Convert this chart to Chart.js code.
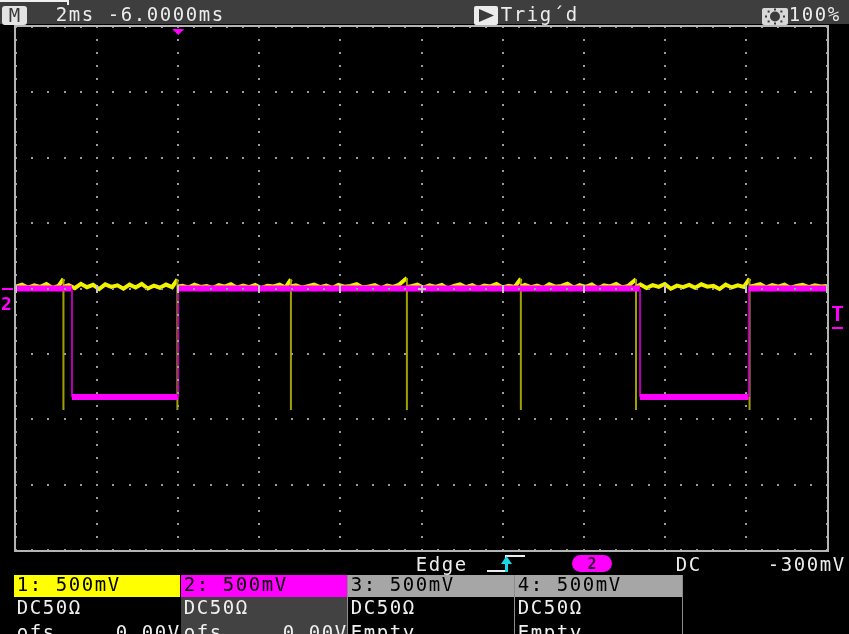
<!DOCTYPE html>
<html lang="en">
<head>
<meta charset="UTF-8" />
<title>Scope capture</title>
<script src="https://cdn.jsdelivr.net/npm/chart.js"></script>
<style>
  body { margin: 0; background: #000; }
  canvas { display: block; }
</style>
</head>
<body>
<canvas id="scope" width="849" height="634"></canvas>
<script>
  // screen is 10 div x 2 ms and 8 div x 500 mV
  const timeTicks = [0, 2, 4, 6, 8, 10, 12, 14, 16, 18, 20];
  const voltTicks = [-2, -1.5, -1, -0.5, 0, 0.5, 1, 1.5, 2];

  // channel 2 (magenta): two low pulses
  const ch2Time = [0, 1.38, 1.38, 4.00, 4.00, 15.39, 15.39, 18.07, 18.07, 20];
  const ch2Volt = [0, 0, -0.83, -0.83, 0, 0, -0.83, -0.83, 0, 0];

  // channel 1 (yellow): noisy baseline with short negative spikes
  const ch1Time = [
    0, 0.15, 0.30, 0.45, 0.60, 0.75, 0.90, 1.05,
    1.17, 1.17, 1.17,
    1.30, 1.45, 1.60, 1.75, 1.90, 2.05, 2.20, 2.35, 2.50, 2.65, 2.80, 2.95, 3.10, 3.25, 3.40, 3.55, 3.70, 3.85,
    3.98, 3.98, 3.98,
    4.10, 4.25, 4.40, 4.55, 4.70, 4.85, 5.00, 5.15, 5.30, 5.45, 5.60, 5.75, 5.90, 6.05, 6.20, 6.35, 6.50, 6.65,
    6.78, 6.78, 6.78,
    6.90, 7.05, 7.20, 7.35, 7.50, 7.65, 7.80, 7.95, 8.10, 8.25, 8.40, 8.55, 8.70, 8.85, 9.00, 9.15, 9.30, 9.45,
    9.64, 9.64, 9.64,
    9.75, 9.90, 10.05, 10.20, 10.35, 10.50, 10.65, 10.80, 10.95, 11.10, 11.25, 11.40, 11.55, 11.70, 11.85, 12.00, 12.15, 12.30,
    12.45, 12.45, 12.45,
    12.55, 12.70, 12.85, 13.00, 13.15, 13.30, 13.45, 13.60, 13.75, 13.90, 14.05, 14.20, 14.35, 14.50, 14.65, 14.80, 14.95, 15.10,
    15.29, 15.29, 15.29,
    15.40, 15.55, 15.70, 15.85, 16.00, 16.15, 16.30, 16.45, 16.60, 16.75, 16.90, 17.05, 17.20, 17.35, 17.50, 17.65, 17.80, 17.95,
    18.09, 18.09, 18.09,
    18.20, 18.35, 18.50, 18.65, 18.80, 18.95, 19.10, 19.25, 19.40, 19.55, 19.70, 19.85, 20.00
  ];
  const ch1Volt = [
    0.014, 0.030, 0.006, 0.024, 0.012, 0.034, 0.004, 0.020,
    0.073, -0.93, 0.012,
    0.026, 0.002, 0.036, 0.010, 0.028, -0.004, 0.032, 0.012, 0.024, -0.002, 0.030, 0.008, 0.035, 0.000, 0.022, 0.006, 0.030, 0.010,
    0.070, -0.93, 0.014,
    0.020, 0.008, 0.030, 0.012, 0.018, 0.004, 0.026, 0.014, 0.032, 0.006, 0.022, 0.010, 0.028, 0.002, 0.020, 0.016, 0.030, 0.008,
    0.070, -0.93, 0.015,
    0.024, 0.006, 0.018, 0.030, 0.010, 0.022, 0.004, 0.028, 0.014, 0.020, 0.034, 0.008, 0.016, 0.026, 0.002, 0.022, 0.012, 0.030,
    0.080, -0.93, 0.012,
    0.018, 0.030, 0.006, 0.024, 0.012, 0.028, 0.000, 0.020, 0.032, 0.010, 0.026, 0.004, 0.022, 0.016, 0.034, 0.008, 0.020, 0.012,
    0.075, -0.93, 0.015,
    0.028, 0.010, 0.022, 0.004, 0.032, 0.014, 0.020, 0.036, 0.006, 0.026, 0.012, 0.030, 0.000, 0.024, 0.016, 0.034, 0.008, 0.020,
    0.070, -0.93, 0.012,
    0.030, 0.004, 0.026, 0.012, 0.034, -0.002, 0.022, 0.010, 0.028, 0.006, 0.032, 0.014, 0.020, -0.004, 0.030, 0.008, 0.024, 0.012,
    0.075, -0.93, 0.014,
    0.022, 0.034, 0.008, 0.026, 0.014, 0.030, 0.004, 0.020, 0.028, 0.010, 0.024, 0.016, 0.020
  ];

  const FONT = '19px "DejaVu Sans Mono", "Liberation Mono", monospace';

  // fixed-pitch text, 13px per character cell
  function mono(ctx, s, x, y, color) {
    ctx.fillStyle = color;
    ctx.font = FONT;
    ctx.textAlign = 'center';
    ctx.textBaseline = 'alphabetic';
    [...s].forEach((ch, i) => ctx.fillText(ch, x + i * 13 + 6.5, y));
  }

  function roundRect(ctx, x, y, w, h, r, color) {
    ctx.fillStyle = color;
    ctx.beginPath();
    ctx.roundRect(x, y, w, h, r);
    ctx.fill();
  }

  const isVertical = c => c.p0.parsed.x === c.p1.parsed.x;

  const screenPlugin = {
    id: 'screen',
    beforeDraw(chart) {
      const ctx = chart.ctx;
      ctx.save();
      ctx.fillStyle = '#000';
      ctx.fillRect(0, 0, chart.width, chart.height);
      ctx.restore();
    },
    afterDatasetsDraw(chart) {
      const ctx = chart.ctx;
      const xs = chart.scales.x, ys = chart.scales.y;
      const ca = chart.chartArea;
      ctx.save();

      // dotted graticule, 5 dots per division
      ctx.fillStyle = '#9a9a9a';
      timeTicks.forEach(t => {
        const px = Math.round(xs.getPixelForValue(t));
        for (let k = 0; k <= 40; k++) {
          const py = Math.round(ys.getPixelForValue(-2 + k * 0.1));
          ctx.fillRect(px - 1, py - 1, 2, 2);
        }
      });
      voltTicks.forEach(v => {
        const py = Math.round(ys.getPixelForValue(v));
        for (let k = 0; k <= 50; k++) {
          const px = Math.round(xs.getPixelForValue(k * 0.4));
          ctx.fillRect(px - 1, py - 1, 2, 2);
        }
      });

      // major ticks on the centre line
      const cy = Math.round(ys.getPixelForValue(0));
      ctx.fillStyle = '#c4c4c4';
      timeTicks.forEach(t => {
        const px = Math.round(xs.getPixelForValue(t));
        ctx.fillRect(px - 1, cy - 4, 2, 8);
      });
      const cx = Math.round(xs.getPixelForValue(10));
      ctx.fillRect(cx - 4, cy - 1, 8, 2);

      // frame
      ctx.strokeStyle = '#b4b4b4';
      ctx.lineWidth = 2;
      ctx.strokeRect(ca.left - 1, ca.top - 1, ca.width + 2, ca.height + 2);

      // trigger position marker
      const tx = xs.getPixelForValue(4);
      ctx.fillStyle = '#ff00ff';
      ctx.beginPath();
      ctx.moveTo(tx - 6, ca.top + 2);
      ctx.lineTo(tx + 6, ca.top + 2);
      ctx.lineTo(tx, ca.top + 8);
      ctx.closePath();
      ctx.fill();

      // channel 2 ground marker on the left
      ctx.fillRect(2, cy - 1, 11, 2);
      ctx.font = 'bold 18px "DejaVu Sans Mono", monospace';
      ctx.textAlign = 'left';
      ctx.fillText('2', 1, cy + 21);

      // trigger level marker on the right
      const ly = Math.round(ys.getPixelForValue(-0.3));
      ctx.fillRect(832, ly - 22, 11, 2);
      ctx.fillRect(836, ly - 22, 3, 15);
      ctx.fillRect(832, ly - 1, 11, 2);
      ctx.restore();
    },
    afterDraw(chart) {
      const ctx = chart.ctx;
      ctx.save();

      // top status bar
      ctx.fillStyle = '#3e3e3e';
      ctx.fillRect(0, 0, chart.width, 24);
      ctx.fillStyle = '#f0f0f0';
      ctx.fillRect(0, 0, 68, 2);
      ctx.fillRect(67, 0, 2, 5);
      roundRect(ctx, 2, 6, 25, 19, 3, '#e4e4e4');
      mono(ctx, 'M', 8, 22, '#3a3a3a');
      mono(ctx, '2ms -6.0000ms', 55, 21, '#ececec');

      roundRect(ctx, 474, 6, 24, 19, 2, '#ececec');
      ctx.fillStyle = '#3a3a3a';
      ctx.beginPath();
      ctx.moveTo(479, 9);
      ctx.lineTo(494, 15.5);
      ctx.lineTo(479, 22);
      ctx.closePath();
      ctx.fill();
      mono(ctx, 'Trig\u00b4d', 500, 21, '#ececec');

      roundRect(ctx, 762, 8, 26, 17, 2, '#d8d8d8');
      ctx.fillStyle = '#3a3a3a';
      ctx.beginPath();
      ctx.arc(775, 16.5, 5, 0, Math.PI * 2);
      ctx.fill();
      for (let a = 0; a < 8; a++) {
        const ang = a * Math.PI / 4;
        ctx.fillRect(775 + Math.cos(ang) * 9 - 1, 16.5 + Math.sin(ang) * 7 - 1, 2, 2);
      }
      mono(ctx, '100%', 788, 21, '#ececec');

      // trigger settings row
      mono(ctx, 'Edge', 415, 571, '#ececec');
      ctx.strokeStyle = '#ececec';
      ctx.lineWidth = 2;
      ctx.beginPath();
      ctx.moveTo(487, 571);
      ctx.lineTo(506, 571);
      ctx.lineTo(506, 556);
      ctx.lineTo(525, 556);
      ctx.stroke();
      ctx.fillStyle = '#18d8e8';
      ctx.fillRect(505, 560, 3, 12);
      ctx.beginPath();
      ctx.moveTo(506.5, 556);
      ctx.lineTo(512, 564);
      ctx.lineTo(501, 564);
      ctx.closePath();
      ctx.fill();
      roundRect(ctx, 572, 555, 40, 17, 8.5, '#ff00ff');
      ctx.fillStyle = '#300030';
      ctx.font = 'bold 15px "DejaVu Sans Mono", monospace';
      ctx.textAlign = 'center';
      ctx.fillText('2', 592, 569);
      mono(ctx, 'DC', 675, 571, '#ececec');
      mono(ctx, '-300mV', 767, 571, '#ececec');

      // channel boxes
      const boxes = [
        { x: 14, w: 167, head: '#ffff00', body: '#000', title: '1: 500mV', l2: 'DC50\u03a9', l3: 'ofs' },
        { x: 181, w: 167, head: '#ff00ff', body: '#424242', title: '2: 500mV', l2: 'DC50\u03a9', l3: 'ofs' },
        { x: 348, w: 167, head: '#a6a6a6', body: '#000', title: '3: 500mV', l2: 'DC50\u03a9', l3: 'Empty' },
        { x: 515, w: 168, head: '#a6a6a6', body: '#000', title: '4: 500mV', l2: 'DC50\u03a9', l3: 'Empty' }
      ];
      boxes.forEach((b, i) => {
        ctx.fillStyle = b.head;
        ctx.fillRect(b.x, 575, b.w - 1, 22);
        ctx.fillStyle = b.body;
        ctx.fillRect(b.x, 597, b.w - 1, 40);
        if (i >= 2) {
          ctx.fillStyle = '#8c8c8c';
          ctx.fillRect(b.x - 1, 575, 1, 60);
          ctx.fillRect(b.x + b.w - 1, 575, 1, 60);
        }
        mono(ctx, b.title, b.x + 2, 591, '#000');
        mono(ctx, b.l2, b.x + 2, 614, '#f0f0f0');
        mono(ctx, b.l3, b.x + 2, 639, '#f0f0f0');
        if (b.l3 === 'ofs') mono(ctx, '0.00V', b.x + b.w - 66, 639, '#f0f0f0');
      });
      ctx.restore();
    }
  };

  new Chart(document.getElementById('scope'), {
    type: 'line',
    data: {
      datasets: [
        {
          label: 'CH2',
          data: ch2Time.map((t, i) => ({ x: t, y: ch2Volt[i] })),
          order: 0,
          borderColor: '#ff00ff',
          borderWidth: 6,
          segment: {
            borderWidth: c => isVertical(c) ? 2 : 6,
            borderColor: c => isVertical(c) ? '#b400b4' : '#ff00ff'
          }
        },
        {
          label: 'CH1',
          data: ch1Time.map((t, i) => ({ x: t, y: ch1Volt[i] })),
          order: 1,
          borderColor: '#f2f200',
          borderWidth: 4,
          segment: {
            borderWidth: c => isVertical(c) ? 2 : 4,
            borderColor: c => isVertical(c) ? '#a0a000' : '#f2f200'
          }
        }
      ]
    },
    options: {
      responsive: false,
      animation: false,
      events: [],
      layout: { padding: { left: 16, right: 22, top: 27, bottom: 84 } },
      elements: {
        point: { radius: 0 },
        line: { tension: 0, borderCapStyle: 'butt', borderJoinStyle: 'miter' }
      },
      scales: {
        x: { type: 'linear', min: 0, max: 20, display: false },
        y: { type: 'linear', min: -2, max: 2, display: false }
      },
      plugins: {
        legend: { display: false },
        tooltip: { enabled: false }
      }
    },
    plugins: [screenPlugin]
  });
</script>
</body>
</html>
